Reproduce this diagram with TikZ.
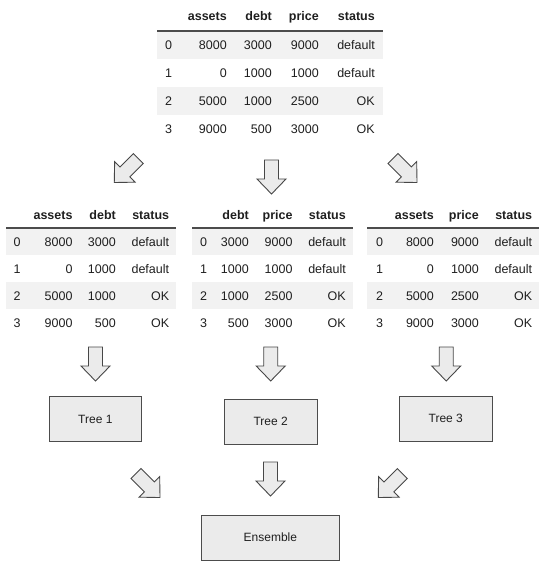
\documentclass[tikz,border=0pt]{standalone}
\usepackage{fontspec}
\setmainfont{Liberation Sans}
\begin{document}
\begin{tikzpicture}[x=1pt,y=-1pt,
  cell/.style={inner sep=0pt,font=\fontsize{12.5}{14}\selectfont,text=black!88},
  hd/.style={cell,font=\fontsize{12.5}{14}\selectfont\bfseries},
  rowshade/.style={fill=black!5},
  rulestyle/.style={draw=black!70,line width=1.4pt},
  boxstyle/.style={draw=black!70,fill=black!8,line width=1pt,inner sep=0pt,font=\fontsize{12}{14}\selectfont,text=black!88},
  arrowstyle/.style={draw=black!72,fill=black!8,line width=0.9pt,line join=miter},
  blockarrow/.pic={\path[arrowstyle] (-7,-17) -- (7,-17) -- (7,2) -- (14.5,2) -- (0,17) -- (-14.5,2) -- (-7,2) -- cycle;}
]
\useasboundingbox (0,0) rectangle (541,561);

% ---------- top table ----------
\fill[rowshade] (157,31) rectangle (383,59);
\fill[rowshade] (157,87) rectangle (383,115);
\draw[rulestyle] (157,31) -- (383,31);
\node[hd,anchor=base east] (A-h1) at (227,20.7) {assets};
\node[hd,anchor=base east] (A-h2) at (272,20.7) {debt};
\node[hd,anchor=base east] (A-h3) at (319,20.7) {price};
\node[hd,anchor=base east] (A-h4) at (375,20.7) {status};
\foreach \r/\a/\b/\c/\s in {0/8000/3000/9000/default,1/0/1000/1000/default,2/5000/1000/2500/OK,3/9000/500/3000/OK}{
  \pgfmathsetmacro\yy{50+28*\r}
  \node[cell,anchor=base west] (A-\r-0) at (165,\yy) {\r};
  \node[cell,anchor=base east] (A-\r-1) at (227,\yy) {\a};
  \node[cell,anchor=base east] (A-\r-2) at (272,\yy) {\b};
  \node[cell,anchor=base east] (A-\r-3) at (319,\yy) {\c};
  \node[cell,anchor=base east] (A-\r-4) at (375,\yy) {\s};
}

% ---------- arrows to subsets ----------
\pic[rotate=-45] (ar1) at (126.3,170.5) {blockarrow};
\pic (ar2) at (271.5,177) {blockarrow};
\pic[rotate=45] (ar3) at (405,170.5) {blockarrow};

% ---------- left table ----------
\fill[rowshade] (6,228) rectangle (176,255);
\fill[rowshade] (6,282) rectangle (176,309);
\draw[rulestyle] (6,228) -- (176,228);
\node[hd,anchor=base east] (B-h1) at (72.7,219) {assets};
\node[hd,anchor=base east] (B-h2) at (116,219) {debt};
\node[hd,anchor=base east] (B-h3) at (169.3,219) {status};
\foreach \r/\a/\b/\s in {0/8000/3000/default,1/0/1000/default,2/5000/1000/OK,3/9000/500/OK}{
  \pgfmathsetmacro\yy{246.7+27*\r}
  \node[cell,anchor=base west] (B-\r-0) at (13.3,\yy) {\r};
  \node[cell,anchor=base east] (B-\r-1) at (72.7,\yy) {\a};
  \node[cell,anchor=base east] (B-\r-2) at (116,\yy) {\b};
  \node[cell,anchor=base east] (B-\r-3) at (169.3,\yy) {\s};
}

% ---------- middle table ----------
\fill[rowshade] (192,228) rectangle (353,255);
\fill[rowshade] (192,282) rectangle (353,309);
\draw[rulestyle] (192,228) -- (353,228);
\node[hd,anchor=base east] (C-h1) at (249,219) {debt};
\node[hd,anchor=base east] (C-h2) at (292.7,219) {price};
\node[hd,anchor=base east] (C-h3) at (346,219) {status};
\foreach \r/\a/\b/\s in {0/3000/9000/default,1/1000/1000/default,2/1000/2500/OK,3/500/3000/OK}{
  \pgfmathsetmacro\yy{246.7+27*\r}
  \node[cell,anchor=base west] (C-\r-0) at (200,\yy) {\r};
  \node[cell,anchor=base east] (C-\r-1) at (249,\yy) {\a};
  \node[cell,anchor=base east] (C-\r-2) at (292.7,\yy) {\b};
  \node[cell,anchor=base east] (C-\r-3) at (346,\yy) {\s};
}

% ---------- right table ----------
\fill[rowshade] (367,228) rectangle (539,255);
\fill[rowshade] (367,282) rectangle (539,309);
\draw[rulestyle] (367,228) -- (539,228);
\node[hd,anchor=base east] (D-h1) at (434,219) {assets};
\node[hd,anchor=base east] (D-h2) at (479,219) {price};
\node[hd,anchor=base east] (D-h3) at (532.3,219) {status};
\foreach \r/\a/\b/\s in {0/8000/9000/default,1/0/1000/default,2/5000/2500/OK,3/9000/3000/OK}{
  \pgfmathsetmacro\yy{246.7+27*\r}
  \node[cell,anchor=base west] (D-\r-0) at (376,\yy) {\r};
  \node[cell,anchor=base east] (D-\r-1) at (434,\yy) {\a};
  \node[cell,anchor=base east] (D-\r-2) at (479,\yy) {\b};
  \node[cell,anchor=base east] (D-\r-3) at (532.3,\yy) {\s};
}

% ---------- arrows to trees ----------
\pic (ar4) at (95.5,364) {blockarrow};
\pic (ar5) at (270.7,364) {blockarrow};
\pic (ar6) at (446.2,364) {blockarrow};

% ---------- trees ----------
\node[boxstyle,minimum width=92.7pt,minimum height=45pt] (tree1) at (95.35,419.2) {Tree 1};
\node[boxstyle,minimum width=93.3pt,minimum height=45.3pt] (tree2) at (270.65,421.65) {Tree 2};
\node[boxstyle,minimum width=93pt,minimum height=45.7pt] (tree3) at (445.8,418.85) {Tree 3};

% ---------- arrows to ensemble ----------
\pic[rotate=45] (ar7) at (148,485.5) {blockarrow};
\pic (ar8) at (270.5,479) {blockarrow};
\pic[rotate=-45] (ar9) at (390.3,485.5) {blockarrow};

% ---------- ensemble ----------
\node[boxstyle,minimum width=137.3pt,minimum height=45pt] (ens) at (270.35,537.5) {Ensemble};
\end{tikzpicture}
\end{document}
